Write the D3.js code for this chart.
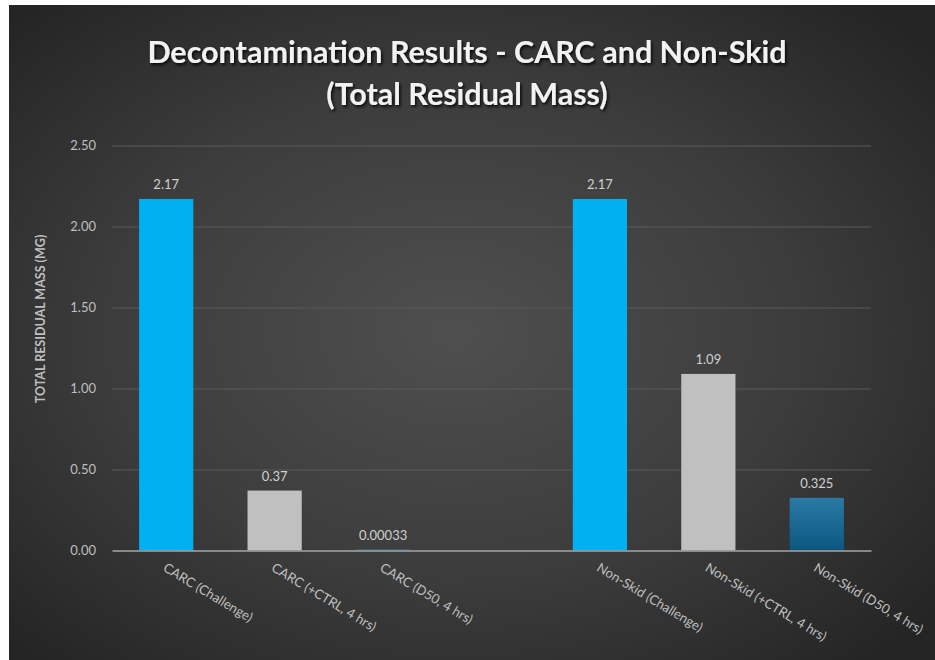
<!DOCTYPE html>
<html>
<head>
<meta charset="utf-8">
<script src="https://cdn.jsdelivr.net/npm/d3@7"></script>
<style>
  html, body { margin: 0; padding: 0; background: #ffffff; }
  svg { display: block; }
</style>
</head>
<body>
<svg id="chart" width="935" height="660"></svg>
<script>
// Categories (an empty slot separates the CARC and Non-Skid groups)
const categories = [
  "CARC (Challenge)",
  "CARC (+CTRL, 4 hrs)",
  "CARC (D50, 4 hrs)",
  "",
  "Non-Skid (Challenge)",
  "Non-Skid (+CTRL, 4 hrs)",
  "Non-Skid (D50, 4 hrs)"
];
// Total residual mass (mg); null = no bar
const values = [2.17, 0.37, 0.00033, null, 2.17, 1.09, 0.325];
const valueLabels = ["2.17", "0.37", "0.00033", "", "2.17", "1.09", "0.325"];
// Bar kind: challenge, positive control, decon treatment
const kinds = ["challenge", "control", "decon", null, "challenge", "control", "decon"];
const yTicks = [0, 0.5, 1.0, 1.5, 2.0, 2.5];

const titleLines = ["Decontamination Results - CARC and Non-Skid", "(Total Residual Mass)"];
const yAxisTitle = "TOTAL RESIDUAL MASS (MG)";

const svg = d3.select("#chart");
const defs = svg.append("defs");

// Dark radial backdrop
const bg = defs.append("radialGradient").attr("id", "bgGrad")
  .attr("cx", "48%").attr("cy", "50%").attr("r", "68%");
bg.append("stop").attr("offset", "0%").attr("stop-color", "#4f4f4f");
bg.append("stop").attr("offset", "55%").attr("stop-color", "#3c3c3c");
bg.append("stop").attr("offset", "100%").attr("stop-color", "#242424");

const deconGrad = defs.append("linearGradient").attr("id", "deconGrad")
  .attr("x1", 0).attr("y1", 0).attr("x2", 0).attr("y2", 1);
deconGrad.append("stop").attr("offset", "0%").attr("stop-color", "#2a7aa5");
deconGrad.append("stop").attr("offset", "100%").attr("stop-color", "#0b5780");

const shadow = defs.append("filter").attr("id", "titleShadow")
  .attr("x", "-10%").attr("y", "-30%").attr("width", "120%").attr("height", "160%");
shadow.append("feDropShadow").attr("dx", 1.5).attr("dy", 2).attr("stdDeviation", 1.6)
  .attr("flood-color", "#000").attr("flood-opacity", 0.85);

svg.append("rect").attr("x", 9).attr("y", 5).attr("width", 926).attr("height", 655)
  .attr("fill", "url(#bgGrad)");

const fillFor = { challenge: "#00b0f0", control: "#c0c0c0", decon: "url(#deconGrad)" };

const plot = { left: 112, right: 871, top: 145.5, bottom: 550.5 };

const x = d3.scaleBand().domain(d3.range(categories.length))
  .range([plot.left, plot.right]).paddingInner(0.5).paddingOuter(0.25);
const y = d3.scaleLinear().domain([0, 2.5]).range([plot.bottom, plot.top]);

// Gridlines
svg.append("g")
  .attr("transform", `translate(${plot.left},0)`)
  .call(d3.axisLeft(y).tickValues(yTicks.filter(t => t > 0))
    .tickSize(-(plot.right - plot.left)).tickFormat(""))
  .call(g => g.select(".domain").remove())
  .call(g => g.selectAll("line").attr("stroke", "#5a5a5a").attr("stroke-width", 1));

// Y tick labels
svg.append("g")
  .attr("transform", `translate(${plot.left - 13},0)`)
  .call(d3.axisLeft(y).tickValues(yTicks).tickSize(0).tickFormat(d3.format(".2f")))
  .call(g => g.select(".domain").remove())
  .call(g => g.selectAll("text")
    .attr("fill", "#bfbfbf").attr("font-family", "Lato, 'Open Sans', sans-serif")
    .attr("font-size", 13));

// Bars
const idx = d3.range(categories.length).filter(i => values[i] !== null);
svg.append("g").selectAll("rect").data(idx).join("rect")
  .attr("x", i => x(i))
  .attr("width", x.bandwidth())
  .attr("y", i => Math.min(y(values[i]), plot.bottom - 1))
  .attr("height", i => Math.max(plot.bottom - y(values[i]), 1))
  .attr("fill", i => fillFor[kinds[i]]);

// Value labels
svg.append("g").selectAll("text").data(idx).join("text")
  .attr("x", i => x(i) + x.bandwidth() / 2)
  .attr("y", i => y(values[i]) - 10)
  .attr("text-anchor", "middle")
  .attr("fill", "#d0d0d0")
  .attr("font-family", "Lato, 'Open Sans', sans-serif")
  .attr("font-size", 13)
  .text(i => valueLabels[i]);

// Category axis line
svg.append("g")
  .attr("transform", `translate(0,${plot.bottom})`)
  .call(d3.axisBottom(x).tickSize(0).tickFormat(""))
  .call(g => g.select(".domain").attr("stroke", "#a6a6a6").attr("stroke-width", 1.5));

// Rotated category labels
svg.append("g").selectAll("text").data(d3.range(categories.length)).join("text")
  .attr("transform", i => `translate(${x(i) + x.bandwidth() / 2},${plot.bottom + 13}) rotate(31)`)
  .attr("text-anchor", "start")
  .attr("dy", "0.6em")
  .attr("fill", "#bfbfbf")
  .attr("font-family", "Lato, 'Open Sans', sans-serif")
  .attr("font-size", 13.2)
  .text(i => categories[i]);

// Y axis title
svg.append("text")
  .attr("transform", `translate(45,319) rotate(-90)`)
  .attr("text-anchor", "middle")
  .attr("fill", "#bfbfbf")
  .attr("font-family", "Lato, 'Open Sans', sans-serif")
  .attr("font-weight", "bold")
  .attr("font-size", 12.5)
  .text(yAxisTitle);

// Chart title
svg.append("g").attr("filter", "url(#titleShadow)")
  .selectAll("text").data(titleLines).join("text")
  .attr("x", 467)
  .attr("y", (d, i) => 63 + i * 42)
  .attr("text-anchor", "middle")
  .attr("fill", "#f2f2f2")
  .attr("font-family", "Lato, 'Open Sans', sans-serif")
  .attr("font-weight", "bold")
  .attr("font-size", 30.5)
  .text(d => d);
</script>
</body>
</html>
